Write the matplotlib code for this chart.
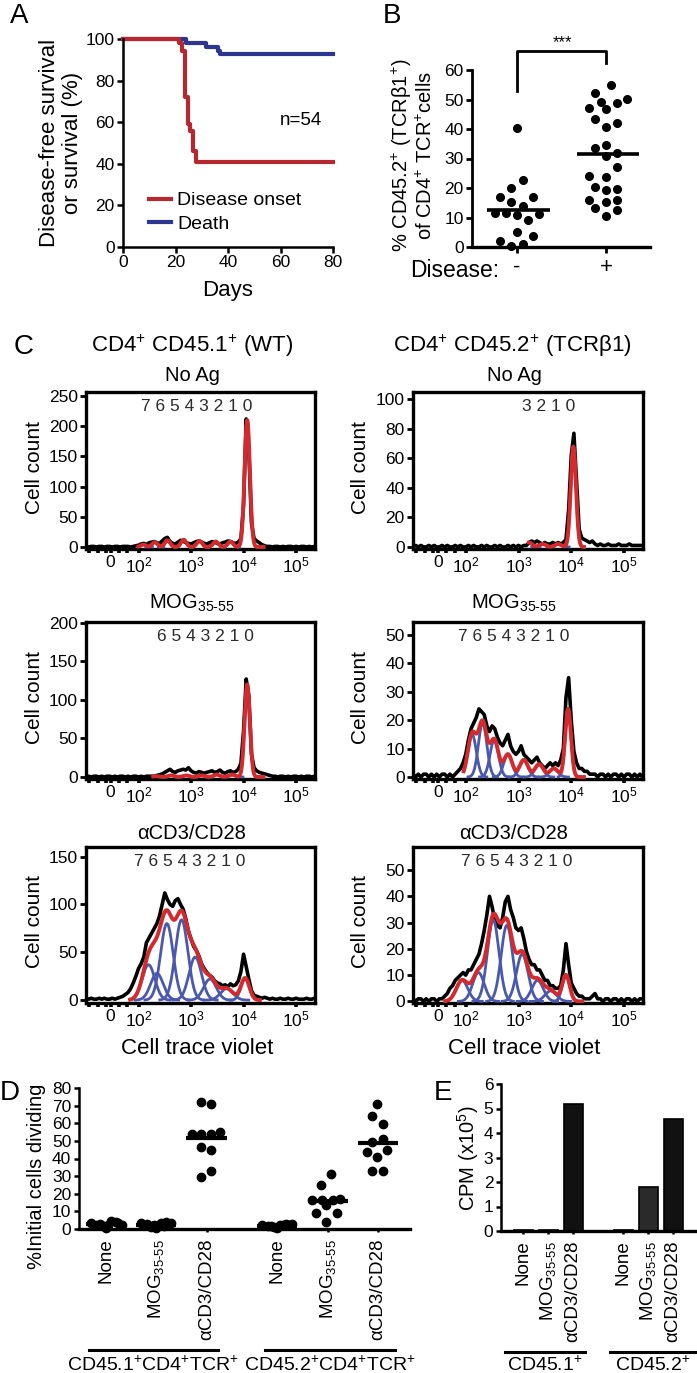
import numpy as np
import matplotlib
matplotlib.use('Agg')
import matplotlib.pyplot as plt
from matplotlib import rcParams
from matplotlib.transforms import blended_transform_factory

rcParams.update({
    'font.family': ['Liberation Sans', 'DejaVu Sans'],
    'mathtext.fontset': 'custom',
    'mathtext.rm': 'Liberation Sans',
    'mathtext.it': 'Liberation Sans:italic',
    'mathtext.bf': 'Liberation Sans:bold',
    'mathtext.sf': 'Liberation Sans',
})

W, H = 697, 1373
RED_A = '#b5282f'
BLUE_A = '#2c3590'
RED = '#d42a2d'
BLUE = '#4a59ad'

# ---------------- A: survival
onset_days = [0, 21.5, 22.5, 23.5, 24.8, 25.7, 26.7, 27.9, 80]
onset_pct = [100, 98.1, 94.4, 72.2, 59.3, 55.6, 46.3, 40.7, 40.7]
death_days = [0, 24.0, 31.7, 36.2, 37.1, 80]
death_pct = [100, 98.1, 96.3, 94.4, 92.6, 92.6]

# ---------------- B: % CD45.2 cells
neg_vals = [40.5, 22.7, 20.0, 17.1, 17.1, 15.1, 13.8, 11.4, 11.4, 11.0, 11.2, 9.0, 5.0, 3.6, 1.9, 1.0, 0.2]
neg_offsets = [0, 0.068, -0.059, -0.182, 0.182, -0.059, 0.068, -0.246, -0.121, 0, 0.246, 0.121, 0, 0.182, -0.182, 0.068, -0.059]
pos_vals = [54.9, 52.1, 50.1, 49.3, 48.7, 47.0, 46.8, 43.4, 42.2, 40.8, 33.7, 34.6, 31.8, 30.7, 27.0,
            23.9, 23.6, 20.2, 19.7, 19.2, 16.0, 16.0, 15.1, 13.2, 12.4, 10.6]
pos_offsets = [0.057, -0.125, 0.235, -0.06, 0.121, -0.19, 0, -0.125, 0.121, 0, -0.125, 0, 0.121, 0, 0.121,
               -0.19, 0, -0.125, 0.121, 0, -0.19, 0.121, 0, -0.125, 0.121, 0]

# ---------------- C: CTV histograms (bins of 0.05 decade starting at 1.0)
wt_noag_counts = ([1, 0, 1, 1, 0, 1, 1, 0, 1, 1, 0, 1, 1, 0, 1, 1, 1, 0, 1, 2]
                  + [3, 5, 6, 4, 7, 8, 9, 7, 6, 10, 14, 16, 9, 6, 5, 8, 11, 10, 7, 6,
                     5, 7, 9, 10, 8, 6, 5, 7, 9, 8, 6, 5, 7, 8, 10, 9, 7, 6, 8, 14]
                  + [70, 212, 160, 40, 14, 10, 7, 4, 2, 1]
                  + [1, 0, 1, 1, 0, 1, 0, 1, 1, 0, 1, 0, 1, 1, 0, 1, 0, 1])
wt_noag_peaks = [4.07, 3.75, 3.47, 3.16, 2.86, 2.55, 2.31, 2.09]
wt_noag_heights = [210, 9, 9, 10, 12, 11, 8, 4]

wt_mog_counts = ([0, 1, 0, 1, 1, 0, 1, 0, 1, 1, 0, 1, 0, 1, 1, 0, 1, 0, 1, 1, 0, 1, 0, 1, 1, 1]
                 + [1, 2, 3, 4, 6, 8, 10, 7, 6, 8, 9, 10, 9, 12, 8, 6, 5, 7, 6, 5,
                    6, 7, 8, 6, 7, 9, 6, 5, 7, 8, 6, 7, 10, 18]
                 + [60, 127, 105, 30, 12, 8, 6, 5, 4, 3, 2]
                 + [1, 1, 0, 1, 1, 0, 1, 0, 1, 1, 0, 1, 0, 1, 1, 0, 1])
wt_mog_peaks = [4.07, 3.78, 3.49, 3.20, 2.91, 2.62, 2.33]
wt_mog_heights = [120, 3, 3, 2, 2, 2, 1]

wt_cd3_counts = ([2, 1, 2, 1, 1, 2, 1, 2, 1, 1, 2, 1, 2]
                 + [3, 4, 6, 8, 12, 18, 25, 33, 38, 45, 60, 65, 70, 75, 80, 88, 100, 112, 105, 100,
                    98, 104, 106, 100, 95, 85, 72, 64, 56, 52, 46, 38, 33, 29, 26, 24, 20, 18, 17, 15,
                    16, 14, 17, 15, 16, 20, 30, 48, 35, 22, 10, 5, 4, 3, 2, 3]
                 + [2, 1, 2, 1, 1, 2, 1, 1, 2, 1, 1, 2, 1, 1, 1, 2, 1, 1, 2])
wt_cd3_peaks = [4.03, 3.68, 3.36, 3.08, 2.82, 2.54, 2.35, 2.19]
wt_cd3_heights = [23, 12, 22, 45, 84, 80, 28, 37]

tcr_noag_counts = ([0, 1, 0, 1, 0, 0, 1, 0, 1, 0, 0, 1, 0, 1, 0, 0, 1, 0, 1, 0,
                    0, 1, 0, 1, 0, 0, 1, 0, 1, 0, 0, 1, 0, 1, 0, 0, 1, 0, 1, 0, 1, 0, 1, 1]
                   + [3, 4, 3, 4, 3, 2, 3, 2, 2, 3, 2, 3, 2, 3, 5]
                   + [25, 62, 77, 45, 12, 6, 5, 4, 3, 4, 2]
                   + [1, 2, 1, 1, 2, 1, 1, 1, 2, 1, 1, 1, 2, 1, 1, 1, 1, 1])
tcr_noag_peaks = [4.04, 3.75, 3.46, 3.20]
tcr_noag_heights = [68, 2, 2, 3]

tcr_mog_counts = ([1, 0, 1, 0, 1, 1, 0, 1, 0, 1, 0, 1, 1, 0, 1, 0, 1]
                  + [2, 3, 5, 8, 13, 17, 19, 21, 24, 23, 22, 18, 16, 18, 17, 14, 12, 11, 13, 15,
                     11, 9, 8, 9, 11, 8, 7, 6, 5, 6, 7, 5, 4, 3, 4, 5, 4, 5, 4, 6,
                     10, 28, 35, 20, 9, 5, 3, 3, 2, 2, 1, 1]
                  + [1, 0, 1, 1, 0, 1, 0, 1, 1, 0, 1, 0, 1, 1, 0, 1, 0, 1, 0])
tcr_mog_peaks = [3.94, 3.67, 3.39, 3.10, 2.80, 2.54, 2.32, 2.12]
tcr_mog_heights = [24, 3, 4.5, 6, 8, 13, 19, 15]

tcr_cd3_counts = ([1, 0, 1, 1, 0, 1, 0, 1, 1, 0, 1, 1]
                  + [2, 3, 5, 6, 8, 9, 10, 11, 10, 12, 12, 14, 16, 18, 22, 27, 33, 40, 36, 31,
                     29, 28, 32, 38, 40, 35, 32, 28, 27, 28, 24, 19, 16, 14, 14, 12, 12, 10, 8, 8,
                     6, 6, 5, 5, 6, 12, 22, 14, 7, 5, 3, 2, 2, 1, 1, 1, 2, 3, 1]
                  + [1, 0, 1, 1, 0, 1, 1, 0, 1, 0, 1, 1, 0, 1, 0, 1, 1])
tcr_cd3_peaks = [3.90, 3.61, 3.36, 3.07, 2.78, 2.52, 2.24, 1.93]
tcr_cd3_heights = [10, 4, 8, 18, 29, 31, 11, 8]

ctv_tick_pos = [1.47, 2, 3, 4, 5]
ctv_tick_labels = ['0', '$10^{2}$', '$10^{3}$', '$10^{4}$', '$10^{5}$']
ctv_minor = [1.06, 1.22, 1.38, 1.63, 1.79]

# ---------------- D: % dividing
d_positions = [0, 1, 2, 3.4, 4.4, 5.4]
d_labels = ['None', r'MOG$_{35\text{-}55}$', 'αCD3/CD28'] * 2
d_values = [
    [3.5, 2.5, 3.0, 0.5, 4.5, 3.8, 2.2, 1.5, 2.0, 3.2],
    [3.2, 2.8, 1.3, 0.4, 3.6, 4.2, 3.3, 2.0, 2.4, 1.8],
    [72.0, 71.0, 54.0, 54.0, 54.0, 55.0, 46.3, 44.7, 29.7, 32.9],
    [2.5, 1.8, 1.0, 2.2, 3.0, 2.6, 1.5, 0.8, 2.0, 2.4],
    [31.0, 24.8, 16.7, 16.2, 16.5, 17.0, 13.6, 8.9, 8.9, 3.8],
    [70.9, 64.3, 59.4, 49.2, 51.0, 43.7, 44.8, 40.7, 32.9, 32.9],
]
d_offsets = [
    [-0.3, -0.2, -0.12, 0, 0.1, 0.2, 0.32, -0.05, 0.05, 0.25],
    [-0.3, -0.18, -0.1, 0, 0.1, 0.2, 0.3, -0.05, 0.05, 0.15],
    [-0.12, 0.09, -0.3, -0.12, 0.08, 0.27, -0.12, 0.09, -0.12, 0.09],
    [-0.3, -0.18, -0.06, 0.06, 0.18, 0.3, -0.12, 0, 0.12, 0.24],
    [0.07, -0.14, -0.31, -0.12, 0.1, 0.25, -0.03, -0.24, 0.18, -0.03],
    [-0.03, -0.12, 0.09, -0.12, 0.09, -0.22, 0.18, -0.03, -0.12, 0.09],
]
d_groups = ['CD45.1$^{+}$CD4$^{+}$TCR$^{+}$', 'CD45.2$^{+}$CD4$^{+}$TCR$^{+}$']

# ---------------- E: CPM
e_positions = [0, 1, 2, 4, 5, 6]
e_values = [0.03, 0.03, 5.2, 0.03, 1.78, 4.57]
e_colors = ['#111111', '#111111', '#111111', '#111111', '#2a2a2a', '#111111']
e_groups = ['CD45.1$^{+}$', 'CD45.2$^{+}$']


fig = plt.figure(figsize=(W / 100, H / 100), dpi=100)


def box(l, t, r, b):
    return [l / W, 1 - b / H, (r - l) / W, (b - t) / H]


def ftext(x, y, s, **kw):
    fig.text(x / W, 1 - y / H, s, **kw)


# panel letters
for lx, ly, s in [(10, 3, 'A'), (383, 3, 'B'), (14, 334, 'C'), (0, 1080, 'D'), (434, 1080, 'E')]:
    ftext(lx, ly, s, fontsize=20, va='top', ha='left')

# ================= A
axA = fig.add_axes(box(123, 39, 333, 247))
l_death, = axA.plot(death_days, death_pct, color=BLUE_A, lw=3, drawstyle='steps-post', clip_on=False)
l_onset, = axA.plot(onset_days, onset_pct, color=RED_A, lw=3, drawstyle='steps-post', clip_on=False)
axA.set_xlim(0, 80)
axA.set_ylim(0, 100)
axA.set_xticks([0, 20, 40, 60, 80])
axA.set_yticks([0, 20, 40, 60, 80, 100])
for s in ['top', 'right']:
    axA.spines[s].set_visible(False)
for s in ['left', 'bottom']:
    axA.spines[s].set_linewidth(1.8)
axA.tick_params(direction='out', length=4, width=1.8, labelsize=12.5, pad=2)
axA.text(67.8, 60.6, 'n=54', ha='center', va='center', fontsize=13.5)
axA.legend([l_onset, l_death], ['Disease onset', 'Death'], loc='upper left',
           bbox_to_anchor=(0.125, 0.265), frameon=False, fontsize=14, handlelength=1.1,
           handletextpad=0.35, labelspacing=0.3, borderpad=0, borderaxespad=0)
ftext(228, 296, 'Days', ha='center', va='baseline', fontsize=16)
ftext(61, 143, 'Disease-free survival\nor survival (%)', rotation=90, ha='center', va='center',
      fontsize=16, linespacing=1.1, multialignment='center')

# ================= B
axB = fig.add_axes(box(472, 70, 650, 247))
axB.plot(neg_offsets, neg_vals, 'o', color='k', ms=5.5, clip_on=False)
axB.plot(1 + np.array(pos_offsets), pos_vals, 'o', color='k', ms=5.5, clip_on=False)
for xc, vals in [(0, neg_vals), (1, pos_vals)]:
    m = np.mean(vals)
    axB.plot([xc - 0.33, xc + 0.37], [m, m], color='k', lw=2.6, solid_capstyle='butt')
axB.set_xlim(-0.5, 1.49)
axB.set_ylim(0, 60)
axB.set_yticks([0, 10, 20, 30, 40, 50, 60])
axB.set_xticks([0, 1])
axB.set_xticklabels(['-', '+'], fontsize=16)
for s in ['top', 'right']:
    axB.spines[s].set_visible(False)
axB.spines['left'].set_linewidth(2.0)
axB.spines['bottom'].set_linewidth(2.4)
axB.tick_params(direction='out', length=4, width=2, labelsize=12.5, pad=2)
axB.tick_params(axis='x', labelsize=16, pad=3)
axB.plot([0, 0, 1, 1], [52.9, 66.4, 66.4, 62.4], color='k', lw=2, clip_on=False)
ftext(562, 47, '***', ha='center', va='baseline', fontsize=12)
ftext(455, 277, 'Disease:', ha='center', va='baseline', fontsize=16.5)
ftext(413, 155, '% CD45.2$^{+}$ (TCRβ1$^{+}$)\nof CD4$^{+}$ TCR$^{+}$cells', rotation=90,
      ha='center', va='center', fontsize=14.5, linespacing=1.1, multialignment='center')

# ================= C
hist_panels = [
    (0, 0, wt_noag_counts, wt_noag_peaks, wt_noag_heights, 0.05, 0.05, (2.0, 4.38),
     (-3.3, 256.6), [0, 50, 100, 150, 200, 250], '7 6 5 4 3 2 1 0', 3.10),
    (0, 1, wt_mog_counts, wt_mog_peaks, wt_mog_heights, 0.05, 0.06, (2.28, 4.38),
     (-2.6, 200.9), [0, 50, 100, 150, 200], '6 5 4 3 2 1 0', 3.27),
    (0, 2, wt_cd3_counts, wt_cd3_peaks, wt_cd3_heights, 0.08, 0.12, (1.84, 4.31),
     (-3.0, 160.0), [0, 50, 100, 150], '7 6 5 4 3 2 1 0', 2.98),
    (1, 0, tcr_noag_counts, tcr_noag_peaks, tcr_noag_heights, 0.05, 0.06, (3.2, 4.24),
     (-1.4, 105.0), [0, 20, 40, 60, 80, 100], '3 2 1 0', 3.58),
    (1, 1, tcr_mog_counts, tcr_mog_peaks, tcr_mog_heights, 0.055, 0.08, (1.96, 4.24),
     (-0.7, 54.6), [0, 10, 20, 30, 40, 50], '7 6 5 4 3 2 1 0', 2.91),
    (1, 2, tcr_cd3_counts, tcr_cd3_peaks, tcr_cd3_heights, 0.07, 0.11, (1.61, 4.21),
     (-0.6, 58.8), [0, 10, 20, 30, 40, 50], '7 6 5 4 3 2 1 0', 2.96),
]
hist_cols = [(86, 315), (413, 643)]
hist_rows = [(392, 549), (622, 779), (847, 1003)]

for col, row, counts, peaks, heights, sig0, sig, fit, ylim, yt, gens, gx in hist_panels:
    l, r = hist_cols[col]
    t, b = hist_rows[row]
    ax = fig.add_axes(box(l, t, r, b))
    xb = 1.0 + 0.05 * np.arange(len(counts))
    ax.plot(xb, counts, color='k', lw=2.6, zorder=2)
    xf = np.linspace(fit[0], fit[1], 500)
    total = np.zeros_like(xf)
    for i, (p, h) in enumerate(zip(peaks, heights)):
        s = sig0 if i == 0 else sig
        g = h * np.exp(-(xf - p) ** 2 / (2 * s * s))
        total += g
        m = np.abs(xf - p) < 3.5 * s
        ax.plot(xf[m], g[m], color=BLUE, lw=2.0, zorder=3)
    ax.plot(xf, total, color=RED, lw=2.8, zorder=4)
    ax.set_xlim(1.0, 5.36)
    ax.set_ylim(*ylim)
    ax.set_yticks(yt)
    ax.set_xticks(ctv_tick_pos)
    ax.set_xticklabels(ctv_tick_labels)
    ax.set_xticks(ctv_minor, minor=True)
    for sp in ax.spines.values():
        sp.set_linewidth(2.4)
    ax.tick_params(axis='y', direction='out', length=4, width=2, labelsize=12.5, pad=2)
    ax.tick_params(axis='x', which='both', direction='out', length=3, width=2.6, labelsize=12.5, pad=1.5)
    ax.text(gx, 0.905, gens, transform=blended_transform_factory(ax.transData, ax.transAxes),
            ha='center', va='center', fontsize=12.5, color='#2b2b2b')
    xl = 34.5 if col == 0 else 361
    ftext(xl, (t + b) / 2 - 3, 'Cell count', rotation=90, ha='center', va='center', fontsize=15)

ftext(192, 352, 'CD4$^{+}$ CD45.1$^{+}$ (WT)', ha='center', va='baseline', fontsize=16)
ftext(512, 352, 'CD4$^{+}$ CD45.2$^{+}$ (TCRβ1)', ha='center', va='baseline', fontsize=16)
for cx in (192, 514):
    ftext(cx, 381, 'No Ag', ha='center', va='baseline', fontsize=14.5)
    ftext(cx, 609, r'MOG$_{35\text{-}55}$', ha='center', va='baseline', fontsize=14.5)
    ftext(cx, 839, 'αCD3/CD28', ha='center', va='baseline', fontsize=14.5)
ftext(197, 1054, 'Cell trace violet', ha='center', va='baseline', fontsize=16)
ftext(524, 1054, 'Cell trace violet', ha='center', va='baseline', fontsize=16)

# ================= D
axD = fig.add_axes(box(79, 1088, 410, 1229))
for xc, vals, offs in zip(d_positions, d_values, d_offsets):
    axD.plot(xc + np.array(offs), vals, 'o', color='k', ms=6, clip_on=False, zorder=3)
    m = np.mean(vals)
    axD.plot([xc - 0.4, xc + 0.4], [m, m], color='k', lw=3, solid_capstyle='butt', zorder=4)
axD.set_xlim(-0.53, 6.03)
axD.set_ylim(0, 80)
axD.set_yticks(range(0, 81, 10))
axD.set_xticks(d_positions)
axD.set_xticklabels(d_labels, rotation=90, fontsize=13.5)
for s in ['top', 'right']:
    axD.spines[s].set_visible(False)
axD.spines['left'].set_linewidth(1.8)
axD.spines['bottom'].set_linewidth(2.4)
axD.tick_params(axis='y', direction='out', length=3.5, width=1.8, labelsize=12.5, pad=2)
axD.tick_params(axis='x', direction='out', length=2.5, width=1.8, pad=4.5)
ftext(37, 1176, '%Initial cells dividing', rotation=90, ha='center', va='center', fontsize=14.5)
trD = blended_transform_factory(axD.transData, fig.transFigure)
for (x0, x1), lab in zip([(-0.33, 2.22), (3.15, 5.73)], d_groups):
    axD.plot([x0, x1], [1 - 1350 / H] * 2, color='k', lw=2.2, transform=trD, clip_on=False)
    axD.text((x0 + x1) / 2, 1 - 1371 / H, lab, transform=trD, ha='center', va='baseline', fontsize=14)

# ================= E
axE = fig.add_axes(box(501, 1084, 695, 1231))
axE.bar(e_positions, e_values, width=0.76, color=e_colors, edgecolor='k', linewidth=1.2)
axE.set_xlim(-0.88, 6.88)
axE.set_ylim(0, 6)
axE.set_yticks(range(0, 7))
axE.set_xticks(e_positions)
axE.set_xticklabels(d_labels, rotation=90, fontsize=13.5)
for s in ['top', 'right']:
    axE.spines[s].set_visible(False)
axE.spines['left'].set_linewidth(1.8)
axE.spines['bottom'].set_linewidth(2.4)
axE.tick_params(axis='y', direction='out', length=3.5, width=1.8, labelsize=12.5, pad=2)
axE.tick_params(axis='x', direction='out', length=2.5, width=1.8, pad=4.5)
ftext(468, 1158, 'CPM (x10$^{5}$)', rotation=90, ha='center', va='center', fontsize=14.5)
trE = blended_transform_factory(axE.transData, fig.transFigure)
for (x0, x1), lab in zip([(-0.72, 2.48), (3.48, 6.88)], e_groups):
    axE.plot([x0, x1], [1 - 1352 / H] * 2, color='k', lw=2.2, transform=trE, clip_on=False)
    axE.text((x0 + x1) / 2, 1 - 1371 / H, lab, transform=trE, ha='center', va='baseline', fontsize=14)

fig.savefig('out.png', dpi=100)
